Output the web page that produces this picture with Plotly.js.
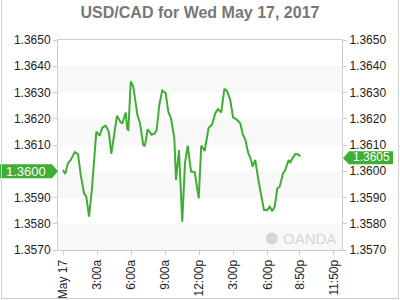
<!DOCTYPE html>
<html>
<head>
<meta charset="utf-8">
<script src="https://cdn.plot.ly/plotly-3.0.1.min.js"></script>
<style>
html,body{margin:0;padding:0;background:#fff;}
#wrap{position:relative;width:400px;height:300px;}
#chart{width:400px;height:300px;}
#frame{position:absolute;left:1px;top:0;width:396px;height:298px;border-left:1px solid #cfcfcf;border-right:1px solid #cfcfcf;border-bottom:1px solid #cfcfcf;pointer-events:none;}
</style>
</head>
<body>
<div id="wrap"><div id="chart"></div><div id="frame"></div></div>
<script>
// Hours since midnight, May 17 2017
const hours = [
  0, 0.2, 0.44, 0.68, 1.03, 1.32, 1.56, 1.85, 2.05, 2.29,
  2.55, 2.93, 3.22, 3.46, 3.75, 4.02, 4.25, 4.45, 4.75, 5.07,
  5.22, 5.51, 5.66, 5.75, 5.96, 6.18, 6.39, 6.54, 6.77, 7.07,
  7.21, 7.45, 7.8, 8.09, 8.24, 8.47, 8.73, 9.03, 9.26, 9.5,
  9.79, 9.94, 10.2, 10.49, 10.73, 10.97, 11.26, 11.52, 11.58, 11.94,
  12.16, 12.46, 12.81, 13.1, 13.4, 13.63, 13.92, 14.19, 14.42, 14.71,
  14.95, 15.3, 15.59, 15.81, 16.04, 16.27, 16.54, 16.68, 16.91, 17.21,
  17.45, 17.68, 17.97, 18.18, 18.41, 18.62, 18.85, 19.06, 19.35, 19.55,
  19.85, 19.99, 20.2, 20.43, 20.67, 20.87
];
const prices = [
  1.36005, 1.3599, 1.36031, 1.36043, 1.36073, 1.36065, 1.35986, 1.35916, 1.35903, 1.35827,
  1.35935, 1.36151, 1.36136, 1.36166, 1.36174, 1.36151, 1.36066, 1.36132, 1.36212, 1.36186,
  1.36183, 1.36224, 1.3616, 1.36158, 1.36342, 1.36323, 1.36266, 1.36215, 1.36183, 1.36098,
  1.36098, 1.3616, 1.36139, 1.36145, 1.36158, 1.36253, 1.36308, 1.36298, 1.36227, 1.36202,
  1.36126, 1.35967, 1.36081, 1.35808, 1.36031, 1.36098, 1.35999, 1.35999, 1.35997, 1.35897,
  1.36098, 1.36077, 1.36166, 1.36177, 1.36221, 1.36237, 1.36224, 1.36314, 1.36306, 1.36272,
  1.36206, 1.36196, 1.36183, 1.36141, 1.3612, 1.36073, 1.36043, 1.36018, 1.36043, 1.3596,
  1.35905, 1.35852, 1.35852, 1.35865, 1.35848, 1.35865, 1.35935, 1.35941, 1.35992, 1.36005,
  1.36043, 1.36034, 1.3605, 1.36066, 1.36065, 1.36056
];
const xTickVals = [0, 3, 6, 9, 12, 15, 18, 20 + 50/60, 23 + 50/60];
const xTickText = ["May 17", "3:00a", "6:00a", "9:00a", "12:00p", "3:00p", "6:00p", "8:50p", "11:50p"];
const yTickVals = [1.3570, 1.3580, 1.3590, 1.3600, 1.3610, 1.3620, 1.3630, 1.3640, 1.3650];
const yTickText = ["1.3570", "1.3580", "1.3590", "1.3600", "1.3610", "1.3620", "1.3630", "1.3640", "1.3650"];
const bandLows = [1.3570, 1.3590, 1.3610, 1.3630];
const openPrice = 1.3600;
const lastPrice = 1.3605;
const openLabel = "1.3600";
const lastLabel = "1.3605";
const title = "USD/CAD for Wed May 17, 2017";

const FONT = "Liberation Sans, Arial, sans-serif";
const GREEN = "#3fae35";

// left axis: the open-price badge covers its own tick label
const leftTickText = yTickText.map((t, i) => yTickVals[i] === openPrice ? "" : t);

const shapes = bandLows.map(b => ({
  type: "rect", xref: "paper", yref: "y", x0: 0, x1: 1, y0: b, y1: b + 0.0010,
  fillcolor: "#f8f8f8", line: {width: 0}, layer: "below"
}));
shapes.push({
  type: "path", xref: "paper", yref: "y", xsizemode: "pixel", ysizemode: "pixel",
  xanchor: 0, yanchor: openPrice,
  path: "M -58 -7 L -6 -7 L 0 0 L -6 7 L -58 7 Z",
  fillcolor: GREEN, line: {width: 0}
});
shapes.push({
  type: "path", xref: "paper", yref: "y", xsizemode: "pixel", ysizemode: "pixel",
  xanchor: 1, yanchor: lastPrice,
  path: "M 1 0 L 7 -6 L 51 -6 L 51 7 L 7 7 Z",
  fillcolor: GREEN, line: {width: 0}
});
shapes.push({
  type: "circle", xref: "paper", yref: "paper", xsizemode: "pixel", ysizemode: "pixel",
  xanchor: 0.753, yanchor: 0.055, x0: -6, x1: 6, y0: -6, y1: 6,
  fillcolor: "#d6d6d6", line: {width: 0}
});

const traces = [
  {x: hours, y: prices, type: "scatter", mode: "lines",
   line: {color: GREEN, width: 2}, hoverinfo: "skip", showlegend: false},
  {x: hours, y: prices, type: "scatter", mode: "lines", yaxis: "y2",
   line: {color: "rgba(0,0,0,0)", width: 0}, hoverinfo: "skip", showlegend: false}
];

const axisCommon = {
  range: [1.3570, 1.3650], tickvals: yTickVals,
  ticks: "outside", ticklen: 4, tickcolor: "#cccccc", showgrid: false, zeroline: false,
  tickfont: {family: FONT, size: 12, color: "#222"}, fixedrange: true
};

const layout = {
  width: 400, height: 300,
  margin: {l: 58, r: 58, t: 40, b: 50},
  paper_bgcolor: "#ffffff", plot_bgcolor: "#ffffff",
  title: {text: "<b>" + title + "</b>", x: 0.5, xanchor: "center", y: 0.96, yanchor: "middle",
          font: {family: FONT, size: 16, color: "#777777"}},
  showlegend: false,
  xaxis: {
    range: [-0.44, 24.54], tickvals: xTickVals, ticktext: xTickText, tickangle: -90,
    ticks: "outside", ticklen: 4, tickcolor: "#cccccc", showgrid: false, zeroline: false,
    showline: true, linecolor: "#cccccc", linewidth: 1, mirror: true,
    tickfont: {family: FONT, size: 12, color: "#222"}, fixedrange: true
  },
  yaxis: Object.assign({}, axisCommon, {ticktext: leftTickText, side: "left", showline: true, linecolor: "#cccccc", linewidth: 1, mirror: true}),
  yaxis2: Object.assign({}, axisCommon, {ticktext: yTickText, side: "right", overlaying: "y", showline: false}),
  shapes: shapes,
  annotations: [
    {xref: "paper", yref: "y", x: 0, y: openPrice, xshift: -32, xanchor: "center", yanchor: "middle",
     text: openLabel, showarrow: false, borderpad: 0, font: {family: FONT, size: 13, color: "#ffffff"}},
    {xref: "paper", yref: "y", x: 1, y: lastPrice, xshift: 29, yshift: 1,
     xanchor: "center", yanchor: "middle", borderpad: 0,
     text: lastLabel, showarrow: false, font: {family: FONT, size: 12, color: "#ffffff"}},
    {xref: "paper", yref: "paper", x: 0.985, y: 0.055, xanchor: "right", yanchor: "middle",
     text: "OANDA", showarrow: false, font: {family: FONT, size: 15, color: "#d6d6d6"}}
  ]
};

Plotly.newPlot("chart", traces, layout, {displayModeBar: false, staticPlot: true});
</script>
</body>
</html>
